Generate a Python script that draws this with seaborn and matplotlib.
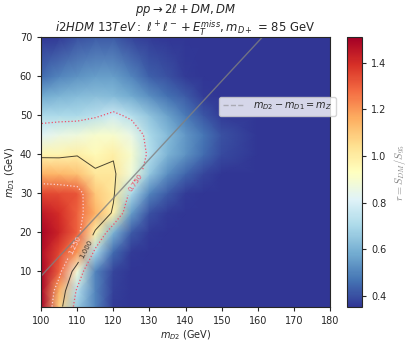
import numpy as np
import matplotlib
matplotlib.use("Agg")
import matplotlib.pyplot as plt
from matplotlib.lines import Line2D
import seaborn as sns

# ---------------------------
# Data
# ---------------------------

m_d2 = [100, 105, 110, 115, 120, 125, 130, 135, 140, 145, 150, 160, 170, 180]
m_d1 = [1, 5, 10, 15, 20, 25, 30, 35, 40, 45, 50, 55, 60, 70]

# r = S_DM / S_95, one row per m_D1 value
r_rows = [
    [1.51, 1.08, 0.66, 0.50, 0.36, 0.35, 0.35, 0.35, 0.35, 0.35, 0.35, 0.35, 0.35, 0.35],
    [1.50, 1.15, 0.72, 0.50, 0.37, 0.35, 0.35, 0.35, 0.35, 0.35, 0.35, 0.35, 0.35, 0.35],
    [1.50, 1.30, 0.88, 0.50, 0.38, 0.35, 0.35, 0.35, 0.35, 0.35, 0.35, 0.35, 0.35, 0.35],
    [1.48, 1.35, 1.20, 0.70, 0.45, 0.36, 0.35, 0.35, 0.35, 0.35, 0.35, 0.35, 0.35, 0.35],
    [1.50, 1.42, 1.30, 0.98, 0.60, 0.42, 0.36, 0.35, 0.35, 0.35, 0.35, 0.35, 0.35, 0.35],
    [1.45, 1.40, 1.30, 1.15, 0.98, 0.55, 0.40, 0.36, 0.35, 0.35, 0.35, 0.35, 0.35, 0.35],
    [1.35, 1.34, 1.32, 1.10, 1.02, 0.70, 0.50, 0.42, 0.36, 0.35, 0.35, 0.35, 0.35, 0.35],
    [1.15, 1.14, 1.12, 1.02, 1.02, 0.88, 0.65, 0.52, 0.44, 0.38, 0.35, 0.35, 0.35, 0.35],
    [0.97, 0.97, 0.99, 0.95, 0.99, 0.90, 0.72, 0.60, 0.53, 0.45, 0.39, 0.35, 0.35, 0.35],
    [0.82, 0.85, 0.87, 0.90, 0.90, 0.85, 0.70, 0.62, 0.54, 0.47, 0.40, 0.35, 0.35, 0.35],
    [0.70, 0.70, 0.70, 0.73, 0.78, 0.72, 0.64, 0.56, 0.48, 0.41, 0.36, 0.35, 0.35, 0.35],
    [0.58, 0.60, 0.62, 0.63, 0.62, 0.58, 0.52, 0.46, 0.42, 0.36, 0.35, 0.35, 0.35, 0.35],
    [0.45, 0.50, 0.53, 0.55, 0.55, 0.50, 0.43, 0.40, 0.36, 0.35, 0.35, 0.35, 0.35, 0.35],
    [0.35, 0.36, 0.40, 0.42, 0.42, 0.38, 0.36, 0.35, 0.35, 0.35, 0.35, 0.35, 0.35, 0.35],
]

contour_levels = [0.75, 1.0, 1.25]
m_z = 91.19

x_ticks = [100, 110, 120, 130, 140, 150, 160, 170, 180]
y_ticks = [10, 20, 30, 40, 50, 60, 70]

title_top = r"$pp \rightarrow 2\ell + DM, DM$"
title_bottom = r"$i2HDM\ 13TeV:\ \ell^+\ell^- + E_T^{miss}, m_{D+}$ = 85 GeV"

# ---------------------------
# Plot
# ---------------------------

sns.set_style("ticks")

r = np.array(r_rows)
cmap = sns.color_palette("RdYlBu_r", as_cmap=True)

fig = plt.figure(figsize=(4.07, 3.46), dpi=100)
ax = fig.add_axes([0.101, 0.114, 0.710, 0.778])
cax = fig.add_axes([0.853, 0.112, 0.037, 0.780])

mesh = ax.pcolormesh(m_d2, m_d1, r, cmap=cmap, shading="gouraud")

cs_lo = ax.contour(m_d2, m_d1, r, levels=[contour_levels[0]], colors="#f0506a",
                   linestyles=":", linewidths=0.9)
cs_mid = ax.contour(m_d2, m_d1, r, levels=[contour_levels[1]], colors="black",
                    linestyles="-", linewidths=0.7, alpha=0.7)
cs_hi = ax.contour(m_d2, m_d1, r, levels=[contour_levels[2]], colors="#fbd0d4",
                   linestyles=":", linewidths=0.9)

ax.clabel(cs_lo, fmt="%1.3f", fontsize=5, manual=[(126, 33)])
ax.clabel(cs_mid, fmt="%1.3f", fontsize=5, manual=[(112, 16)])
ax.clabel(cs_hi, fmt="%1.3f", fontsize=5, manual=[(108, 17.5)])

line_x = np.array([100.0, 180.0])
ax.plot(line_x, line_x - m_z, color="gray", lw=1.0, alpha=0.8)

ax.set_xlim(100, 180)
ax.set_ylim(1, 70)
ax.set_xticks(x_ticks)
ax.set_yticks(y_ticks)
ax.tick_params(labelsize=7, length=3)

ax.set_xlabel(r"$m_{D2}$ (GeV)", fontsize=7, labelpad=2)
ax.set_ylabel(r"$m_{D1}$ (GeV)", fontsize=7, labelpad=2)

# two title lines placed separately to get the tight line spacing
ax.annotate(title_bottom, xy=(0.5, 1.0), xycoords="axes fraction",
            xytext=(0, 3.5), textcoords="offset points",
            ha="center", va="baseline", fontsize=8.4)
ax.annotate(title_top, xy=(0.5, 1.0), xycoords="axes fraction",
            xytext=(0, 17.3), textcoords="offset points",
            ha="center", va="baseline", fontsize=8.4)

handle = Line2D([], [], color="gray", ls="--", lw=1.0, alpha=0.5)
ax.legend([handle], [r"$m_{D2}-m_{D1}=m_Z$"], loc="upper left",
          bbox_to_anchor=(0.615, 0.78), borderaxespad=0, fontsize=7,
          frameon=True, framealpha=0.8, handlelength=2.3)

cbar = fig.colorbar(mesh, cax=cax)
cbar.ax.tick_params(labelsize=7, length=3)
cbar.set_label(r"$r = S_{DM}/S_{95}$", fontsize=7.5, color="gray",
               math_fontfamily="cm")

fig.savefig("out.png", dpi=100)
plt.close(fig)
